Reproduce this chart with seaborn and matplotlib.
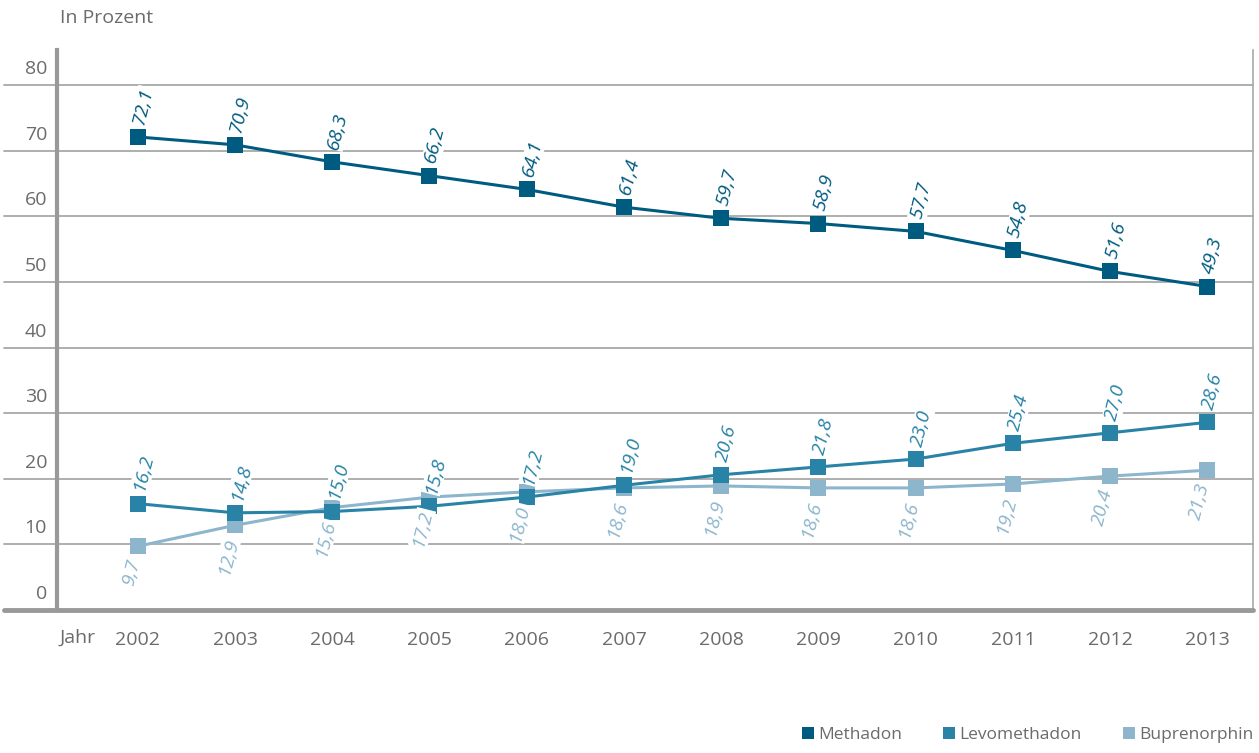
"""
Substitution: share of substances in opioid substitution therapy, 2002-2013.
"""

import matplotlib
matplotlib.use("Agg")
import matplotlib.pyplot as plt
import matplotlib.transforms as mtransforms
from matplotlib.lines import Line2D
import seaborn as sns
import pandas as pd

years = [2002, 2003, 2004, 2005, 2006, 2007, 2008, 2009, 2010, 2011, 2012, 2013]
methadon = [72.1, 70.9, 68.3, 66.2, 64.1, 61.4, 59.7, 58.9, 57.7, 54.8, 51.6, 49.3]
levomethadon = [16.2, 14.8, 15.0, 15.8, 17.2, 19.0, 20.6, 21.8, 23.0, 25.4, 27.0, 28.6]
buprenorphin = [9.7, 12.9, 15.6, 17.2, 18.0, 18.6, 18.9, 18.6, 18.6, 19.2, 20.4, 21.3]
series_names = ["Methadon", "Levomethadon", "Buprenorphin"]
y_ticks = [0, 10, 20, 30, 40, 50, 60, 70, 80]

colors = {"Methadon": "#005b80", "Levomethadon": "#2883a6", "Buprenorphin": "#8db6cd"}
label_side = {"Methadon": "above", "Levomethadon": "above", "Buprenorphin": "below"}
text_gray = "#6b6b6b"
grid_gray = "#a8a8a8"

df = pd.DataFrame({
    "Jahr": years * 3,
    "Wert": methadon + levomethadon + buprenorphin,
    "Serie": sum([[n] * len(years) for n in series_names], []),
})

sns.set_style("white")
plt.rcParams["font.family"] = ["Open Sans", "DejaVu Sans"]

fig = plt.figure(figsize=(12.59, 7.53), dpi=100)
ax = fig.add_axes([0.0453, 0.19, 0.95, 0.744])

# gridlines reaching out past the left spine
for t in y_ticks[1:]:
    ax.axhline(t, xmin=-0.044, xmax=1, color=grid_gray, lw=1.3, clip_on=False, zorder=0)
ax.axhline(0, xmin=-0.044, xmax=1, color="#999999", lw=3.5, clip_on=False, zorder=3)

# lines, drawn bottom series first
for name in series_names[::-1]:
    sub = df[df["Serie"] == name]
    sns.lineplot(data=sub, x="Jahr", y="Wert", ax=ax, color=colors[name],
                 marker="s", markersize=11, markeredgewidth=0, lw=2.2,
                 legend=False, zorder=4)

# rotated value labels
for name in series_names:
    sub = df[df["Serie"] == name]
    for x, v in zip(sub["Jahr"], sub["Wert"]):
        txt = f"{v:.1f}".replace(".", ",")
        if label_side[name] == "above":
            off = mtransforms.offset_copy(ax.transData, fig=fig, x=1, y=13, units="dots")
            ha = "left"
        else:
            off = mtransforms.offset_copy(ax.transData, fig=fig, x=-3, y=-13, units="dots")
            ha = "right"
        ax.text(x, v, txt, transform=off, rotation=76, rotation_mode="anchor",
                ha=ha, va="center", fontsize=14, style="italic", color=colors[name],
                zorder=5, bbox=dict(facecolor="white", edgecolor="none", pad=0.5))

ax.set_xlim(2001.17, 2013.47)
ax.set_ylim(0, 85.4)
ax.set_xticks(years)
ax.set_xticklabels([str(y) for y in years])
ax.set_yticks([])
ax.set_xlabel("")
ax.set_ylabel("")
ax.tick_params(axis="x", direction="in", length=10, width=1, color=grid_gray,
               labelsize=14, labelcolor=text_gray, pad=15)

# y tick labels sit above their gridlines
ylab = mtransforms.offset_copy(ax.get_yaxis_transform(), fig=fig, x=-10, y=16, units="dots")
for t in y_ticks:
    ax.text(0, t, str(t), transform=ylab, ha="right", va="center",
            fontsize=14, color=text_gray)

ax.text(0.032, -0.05, "Jahr", transform=ax.transAxes, ha="right", va="center",
        fontsize=14, color=text_gray)
fig.text(0.048, 0.976, "In Prozent", ha="left", va="center", fontsize=14, color=text_gray)

for side in ["top", "bottom"]:
    ax.spines[side].set_visible(False)
ax.spines["left"].set_color("#999999")
ax.spines["left"].set_linewidth(3)
ax.spines["right"].set_color(grid_gray)
ax.spines["right"].set_linewidth(1.2)

handles = [Line2D([], [], marker="s", ls="none", markersize=8, markeredgewidth=0,
                  color=colors[n]) for n in series_names]
fig.legend(handles, series_names, loc="lower right", bbox_to_anchor=(1.008, -0.008),
           ncol=3, frameon=False, fontsize=12.5, labelcolor=text_gray,
           handletextpad=0.1, columnspacing=2.2, handlelength=1.0)

fig.savefig("out.png", dpi=100)
